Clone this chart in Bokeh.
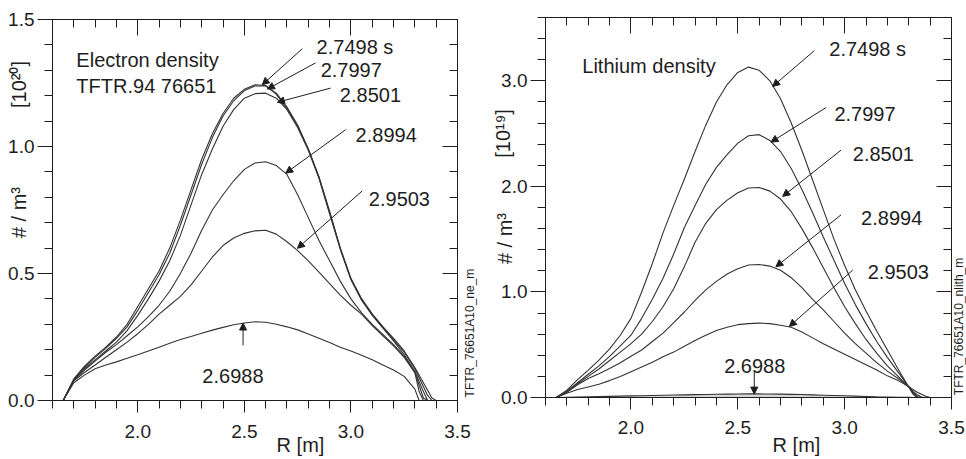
import math
from bokeh.plotting import figure
from bokeh.layouts import row
from bokeh.models import (Range1d, FixedTicker, LinearAxis, Label, Arrow, NormalHead,
                          PrintfTickFormatter, CustomJSTickFormatter)
from bokeh.embed import file_html
from bokeh.resources import INLINE

# ---------------- data ----------------
R = [1.65, 1.70, 1.75, 1.80, 1.85, 1.90, 1.95, 2.00, 2.05, 2.10,
     2.15, 2.20, 2.25, 2.30, 2.35, 2.40, 2.45, 2.50, 2.55, 2.60,
     2.65, 2.70, 2.75, 2.80, 2.85, 2.90, 2.95, 3.00, 3.05, 3.10,
     3.15, 3.20, 3.25, 3.30, 3.32, 3.34, 3.36, 3.38, 3.40]

TIMES = ["2.7498 s", "2.7997", "2.8501", "2.8994", "2.9503", "2.6988"]

# electron density [1e20 m^-3]
NE_27498 = [0.0, 0.085, 0.135, 0.175, 0.21, 0.25, 0.30, 0.37, 0.44, 0.51,
            0.60, 0.71, 0.83, 0.95, 1.05, 1.13, 1.19, 1.225, 1.243, 1.24,
            1.205, 1.15, 1.08, 0.99, 0.88, 0.745, 0.60, 0.48, 0.40, 0.34,
            0.29, 0.245, 0.195, 0.13, 0.10, 0.07, 0.04, 0.01, 0.0]
NE_27997 = [0.0, 0.082, 0.13, 0.17, 0.205, 0.245, 0.29, 0.355, 0.425, 0.495,
            0.58, 0.69, 0.81, 0.93, 1.035, 1.12, 1.18, 1.22, 1.238, 1.238,
            1.21, 1.155, 1.085, 0.99, 0.88, 0.74, 0.60, 0.48, 0.40, 0.34,
            0.29, 0.24, 0.19, 0.125, 0.09, 0.055, 0.02, 0.0, 0.0]
NE_28501 = [0.0, 0.08, 0.125, 0.16, 0.195, 0.23, 0.275, 0.335, 0.40, 0.47,
            0.55, 0.65, 0.77, 0.89, 0.99, 1.08, 1.145, 1.19, 1.208, 1.21,
            1.19, 1.145, 1.075, 0.985, 0.875, 0.735, 0.595, 0.475, 0.395, 0.335,
            0.285, 0.235, 0.18, 0.115, 0.075, 0.035, 0.0, 0.0, 0.0]
NE_28994 = [0.0, 0.08, 0.12, 0.155, 0.19, 0.22, 0.255, 0.29, 0.33, 0.375,
            0.43, 0.50, 0.58, 0.67, 0.75, 0.81, 0.865, 0.91, 0.935, 0.94,
            0.925, 0.89, 0.81, 0.72, 0.63, 0.55, 0.47, 0.40, 0.345, 0.30,
            0.26, 0.22, 0.175, 0.11, 0.06, 0.01, 0.0, 0.0, 0.0]
NE_29503 = [0.0, 0.078, 0.11, 0.14, 0.17, 0.20, 0.23, 0.263, 0.30, 0.34,
            0.375, 0.41, 0.455, 0.51, 0.565, 0.61, 0.64, 0.658, 0.668, 0.67,
            0.655, 0.625, 0.59, 0.55, 0.505, 0.46, 0.415, 0.375, 0.34, 0.295,
            0.255, 0.215, 0.17, 0.11, 0.035, 0.0, 0.0, 0.0, 0.0]
NE_26988 = [0.0, 0.07, 0.10, 0.125, 0.14, 0.152, 0.166, 0.18, 0.195, 0.21,
            0.225, 0.24, 0.252, 0.265, 0.277, 0.288, 0.298, 0.305, 0.31, 0.308,
            0.30, 0.29, 0.278, 0.262, 0.245, 0.228, 0.21, 0.195, 0.178, 0.16,
            0.14, 0.12, 0.095, 0.045, 0.0, 0.0, 0.0, 0.0, 0.0]

# lithium density [1e19 m^-3]
LI_27498 = [0.0, 0.07, 0.17, 0.26, 0.355, 0.46, 0.59, 0.75, 1.0, 1.27,
            1.56, 1.82, 2.07, 2.33, 2.58, 2.80, 2.965, 3.08, 3.13, 3.10,
            3.00, 2.83, 2.60, 2.34, 2.06, 1.78, 1.50, 1.25, 1.02, 0.82,
            0.63, 0.45, 0.27, 0.10, 0.03, 0.0, 0.0, 0.0, 0.0]
LI_27997 = [0.0, 0.06, 0.14, 0.22, 0.30, 0.39, 0.49, 0.59, 0.75, 0.93,
            1.13, 1.36, 1.61, 1.82, 2.02, 2.18, 2.30, 2.41, 2.48, 2.49,
            2.435, 2.33, 2.17, 1.97, 1.75, 1.52, 1.30, 1.08, 0.88, 0.70,
            0.53, 0.38, 0.24, 0.10, 0.04, 0.0, 0.0, 0.0, 0.0]
LI_28501 = [0.0, 0.055, 0.13, 0.20, 0.27, 0.35, 0.43, 0.51, 0.60, 0.72,
            0.86, 1.03, 1.24, 1.47, 1.65, 1.78, 1.87, 1.94, 1.985, 1.99,
            1.955, 1.88, 1.76, 1.60, 1.42, 1.23, 1.04, 0.86, 0.70, 0.55,
            0.42, 0.30, 0.20, 0.10, 0.05, 0.01, 0.0, 0.0, 0.0]
LI_28994 = [0.0, 0.05, 0.12, 0.18, 0.225, 0.275, 0.33, 0.39, 0.45, 0.53,
            0.61, 0.71, 0.81, 0.92, 1.02, 1.10, 1.17, 1.22, 1.255, 1.26,
            1.245, 1.205, 1.135, 1.04, 0.93, 0.83, 0.72, 0.61, 0.51, 0.42,
            0.33, 0.25, 0.18, 0.10, 0.06, 0.025, 0.005, 0.0, 0.0]
LI_29503 = [0.0, 0.04, 0.075, 0.10, 0.125, 0.16, 0.20, 0.245, 0.29, 0.335,
            0.385, 0.43, 0.485, 0.54, 0.59, 0.635, 0.665, 0.69, 0.70, 0.705,
            0.70, 0.685, 0.665, 0.62, 0.565, 0.51, 0.46, 0.41, 0.36, 0.31,
            0.26, 0.205, 0.16, 0.105, 0.075, 0.05, 0.03, 0.012, 0.0]
LI_26988 = [0.0, 0.003, 0.005, 0.007, 0.009, 0.011, 0.013, 0.015, 0.017, 0.019,
            0.021, 0.023, 0.025, 0.027, 0.029, 0.031, 0.032, 0.033, 0.034, 0.034,
            0.033, 0.032, 0.03, 0.028, 0.025, 0.022, 0.019, 0.016, 0.013, 0.01,
            0.007, 0.005, 0.003, 0.001, 0.0, 0.0, 0.0, 0.0, 0.0]

NE_SERIES = [NE_27498, NE_27997, NE_28501, NE_28994, NE_29503, NE_26988]
LI_SERIES = [LI_27498, LI_27997, LI_28501, LI_28994, LI_29503, LI_26988]

# axis extents and ticks
X_BOUNDS = (1.6, 3.5)
NE_Y_BOUNDS = (0.0, 1.5)
LI_Y_BOUNDS = (0.0, 3.6)
X_MAJOR = [2.0, 2.5, 3.0, 3.5]
X_MINOR = [1.6, 1.7, 1.8, 1.9, 2.0, 2.1, 2.2, 2.3, 2.4, 2.5,
           2.6, 2.7, 2.8, 2.9, 3.0, 3.1, 3.2, 3.3, 3.4, 3.5]
NE_Y_MAJOR = [0.0, 0.5, 1.0, 1.5]
NE_Y_MINOR = [0.0, 0.1, 0.2, 0.3, 0.4, 0.5, 0.6, 0.7, 0.8, 0.9,
              1.0, 1.1, 1.2, 1.3, 1.4, 1.5]
LI_Y_MAJOR = [0.0, 1.0, 2.0, 3.0]
LI_Y_MINOR = [0.0, 0.2, 0.4, 0.6, 0.8, 1.0, 1.2, 1.4, 1.6, 1.8,
              2.0, 2.2, 2.4, 2.6, 2.8, 3.0, 3.2, 3.4, 3.6]

# annotation positions (data coordinates)
NE_LABEL_X = [2.839, 2.858, 2.948, 3.022, 3.084, 2.303]
NE_LABEL_Y = [1.391, 1.300, 1.201, 1.046, 0.794, 0.096]
NE_ARROW_X0 = [2.772, 2.834, 2.905, 2.975, 3.053, 2.494]
NE_ARROW_Y0 = [1.385, 1.329, 1.230, 1.066, 0.825, 0.217]
NE_ARROW_X1 = [2.584, 2.608, 2.655, 2.694, 2.749, 2.494]
NE_ARROW_Y1 = [1.243, 1.226, 1.174, 0.895, 0.599, 0.305]

LI_LABEL_X = [2.928, 2.952, 3.038, 3.077, 3.108, 2.436]
LI_LABEL_Y = [3.302, 2.690, 2.309, 1.705, 1.185, 0.295]
LI_ARROW_X0 = [2.858, 2.913, 2.983, 2.983, 3.038, 2.577]
LI_ARROW_Y0 = [3.286, 2.747, 2.343, 1.730, 1.207, 0.254]
LI_ARROW_X1 = [2.663, 2.655, 2.710, 2.678, 2.741, 2.577]
LI_ARROW_Y1 = [2.947, 2.419, 1.905, 1.238, 0.673, 0.032]

FONT = "Liberation Sans"
INK = "#1e1e1e"
LINE = "#333333"


def style_axis(ax, tick_in, tick_out, minor_in, minor_out, labels, standoff=0):
    ax.major_tick_in = tick_in
    ax.major_tick_out = tick_out
    ax.minor_tick_in = minor_in
    ax.minor_tick_out = minor_out
    ax.axis_line_color = INK
    ax.major_tick_line_color = INK
    ax.minor_tick_line_color = INK
    ax.major_label_standoff = standoff
    if labels:
        ax.formatter = PrintfTickFormatter(format="%.1f")
        ax.major_label_text_font = FONT
        ax.major_label_text_font_size = "19px"
        ax.major_label_text_color = INK
    else:
        ax.formatter = CustomJSTickFormatter(code="return '';")


def make_panel(width, height, x_range, y_range, y_bounds, y_major, y_minor):
    p = figure(width=width, height=height, x_range=x_range, y_range=y_range,
               output_backend="svg", toolbar_location=None,
               x_axis_location=None, y_axis_location=None,
               min_border=0, background_fill_color="white",
               border_fill_color="white")
    p.grid.visible = False
    p.outline_line_color = None
    xt = dict(ticks=X_MAJOR, minor_ticks=X_MINOR)
    yt = dict(ticks=y_major, minor_ticks=y_minor)

    bottom = LinearAxis(ticker=FixedTicker(**xt), fixed_location=y_bounds[0], bounds=X_BOUNDS)
    style_axis(bottom, 0, 12, 0, 8, True, standoff=12)
    p.add_layout(bottom, "below")

    top = LinearAxis(ticker=FixedTicker(**xt), fixed_location=y_bounds[1], bounds=X_BOUNDS)
    style_axis(top, 16, 0, 8, 0, False)
    p.add_layout(top, "above")

    left = LinearAxis(ticker=FixedTicker(**yt), fixed_location=X_BOUNDS[0], bounds=y_bounds)
    style_axis(left, 0, 15, 0, 8, True, standoff=3)
    p.add_layout(left, "left")

    right = LinearAxis(ticker=FixedTicker(**yt), fixed_location=X_BOUNDS[1], bounds=y_bounds)
    style_axis(right, 15, 0, 8, 0, False)
    p.add_layout(right, "right")
    return p


def add_text(p, x, y, text, size="20px", align="left", baseline="alphabetic", angle=0.0):
    p.add_layout(Label(x=x, y=y, text=text, text_font=FONT, text_font_size=size,
                       text_color=INK, text_align=align, text_baseline=baseline,
                       angle=angle))


def add_arrow(p, x0, y0, x1, y1):
    p.add_layout(Arrow(end=NormalHead(size=7, line_color=INK, fill_color=INK, line_width=1),
                       x_start=x0, y_start=y0, x_end=x1, y_end=y1,
                       line_color=INK, line_width=1))


# ---------------- left panel: electron density ----------------
p1 = make_panel(493, 459, Range1d(1.35605, 3.66889), Range1d(-0.23228, 1.57480),
                NE_Y_BOUNDS, NE_Y_MAJOR, NE_Y_MINOR)
for ys in NE_SERIES:
    p1.line(R, ys, line_color=LINE, line_width=1.1)

add_text(p1, 1.712, 1.342, "Electron density")
add_text(p1, 1.712, 1.240, "TFTR.94 76651")
for i, t in enumerate(TIMES):
    add_text(p1, NE_LABEL_X[i], NE_LABEL_Y[i], t)
    add_arrow(p1, NE_ARROW_X0[i], NE_ARROW_Y0[i], NE_ARROW_X1[i], NE_ARROW_Y1[i])
add_text(p1, 1.4405, 1.244, "[10²⁰]", align="center", baseline="middle", angle=math.pi / 2)
add_text(p1, 1.4405, 0.740, "# / m³", align="center", baseline="middle", angle=math.pi / 2)
add_text(p1, 2.7635, -0.175, "R [m]", align="center")
add_text(p1, 3.5563, 0.2657, "TFTR_76651A10_ne_m", size="12px", align="center",
         baseline="middle", angle=math.pi / 2)

# ---------------- right panel: lithium density ----------------
p2 = make_panel(473, 459, Range1d(1.35665, 3.57020), Range1d(-0.58737, 3.76105),
                LI_Y_BOUNDS, LI_Y_MAJOR, LI_Y_MINOR)
p2.varea(x=R, y1=0.0, y2=LI_26988, fill_color="#d6d6d6")
for ys in LI_SERIES:
    p2.line(R, ys, line_color=LINE, line_width=1.1)

add_text(p2, 1.772, 3.143, "Lithium density")
for i, t in enumerate(TIMES):
    add_text(p2, LI_LABEL_X[i], LI_LABEL_Y[i], t)
    add_arrow(p2, LI_ARROW_X0[i], LI_ARROW_Y0[i], LI_ARROW_X1[i], LI_ARROW_Y1[i])
add_text(p2, 1.4034, 2.501, "[10¹⁹]", align="center", baseline="middle", angle=math.pi / 2)
add_text(p2, 1.4128, 1.506, "# / m³", align="center", baseline="middle", angle=math.pi / 2)
add_text(p2, 2.7746, -0.45, "R [m]", align="center")
add_text(p2, 3.5328, 0.673, "TFTR_76651A10_nlith_m", size="12px", align="center",
         baseline="middle", angle=math.pi / 2)

layout = row(p1, p2)
open("out.html", "w").write(file_html(layout, INLINE))
